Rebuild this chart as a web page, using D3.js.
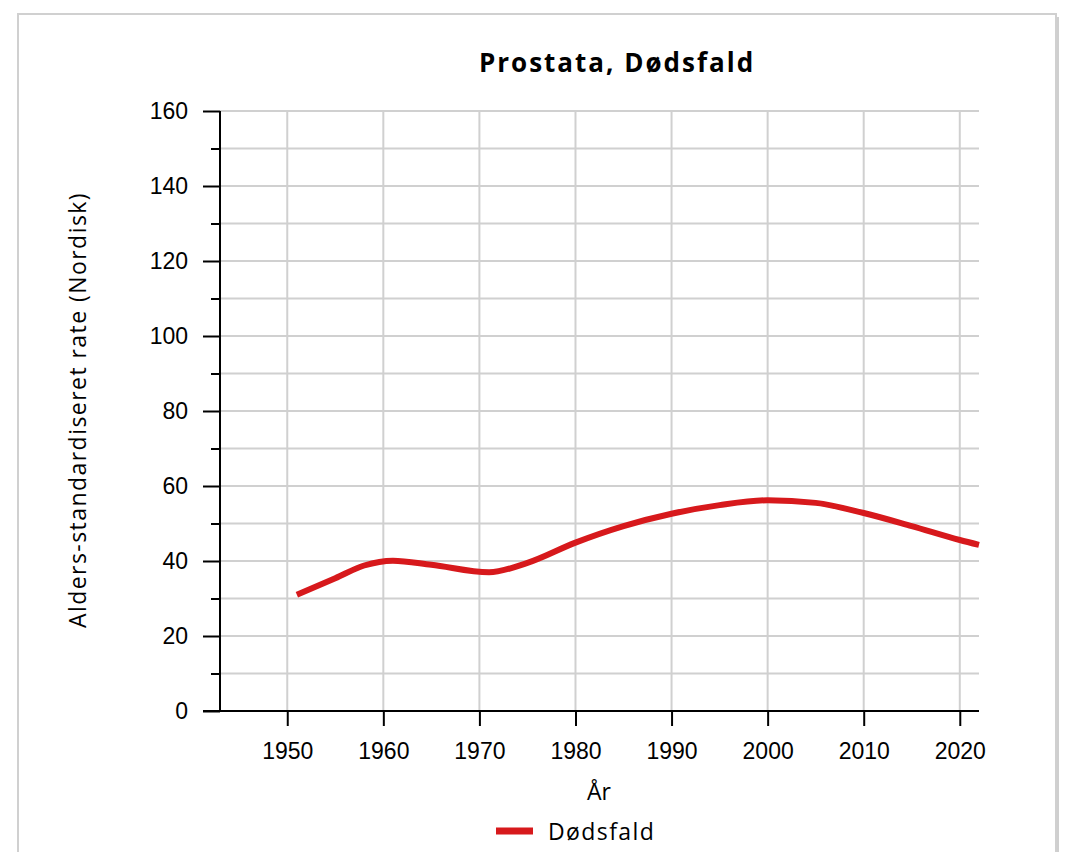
<!DOCTYPE html>
<html><head><meta charset="utf-8">
<script src="https://cdn.jsdelivr.net/npm/d3@7/dist/d3.min.js"></script>
<style>body{margin:0;background:#fff}</style>
</head><body>
<svg id="c" width="1072" height="852"></svg>
<script>
const years = [1951, 1955, 1958, 1961, 1965, 1971, 1975, 1980, 1985, 1990, 1995, 2000, 2005, 2010, 2015, 2020, 2022];
const rates = [31.0, 35.4, 38.8, 40.1, 39.0, 37.0, 39.5, 44.9, 49.3, 52.6, 54.9, 56.2, 55.5, 52.8, 49.3, 45.6, 44.3];
const xTicks = [1950, 1960, 1970, 1980, 1990, 2000, 2010, 2020];
const yTicks = [0, 20, 40, 60, 80, 100, 120, 140, 160];
const yMinor = [10, 30, 50, 70, 90, 110, 130, 150];
const title = "Prostata, Dødsfald";
const xLabel = "År";
const yLabel = "Alders-standardiseret rate (Nordisk)";
const seriesName = "Dødsfald";

const svg = d3.select("#c");
const L = 220, R = 979, T = 111, B = 711;
const x = d3.scaleLinear().domain([1943, 2022]).range([L, R]);
const y = d3.scaleLinear().domain([0, 160]).range([B, T]);

// frame with shadow
svg.append("rect").attr("x", 21).attr("y", 17).attr("width", 1038).attr("height", 900).attr("fill", "#cfcfcf");
svg.append("rect").attr("x", 18).attr("y", 14).attr("width", 1038).attr("height", 900).attr("fill", "#fff")
  .attr("stroke", "#d0d0d0").attr("stroke-width", 2);

const grid = svg.append("g");
yTicks.concat(yMinor).forEach(v => {
  grid.append("line").attr("x1", L).attr("x2", R).attr("y1", y(v)).attr("y2", y(v))
    .attr("stroke", "#d0d0d0").attr("stroke-width", 2);
});
xTicks.forEach(v => {
  grid.append("line").attr("x1", x(v)).attr("x2", x(v)).attr("y1", T).attr("y2", B)
    .attr("stroke", "#d0d0d0").attr("stroke-width", 2);
});

// y axis
const yAx = svg.append("g").attr("transform", `translate(${L},0)`)
  .call(d3.axisLeft(y).tickValues(yTicks).tickSize(17).tickPadding(15).tickFormat(d3.format("d")));
const yAxMinor = svg.append("g").attr("transform", `translate(${L},0)`)
  .call(d3.axisLeft(y).tickValues(yMinor).tickSize(9).tickFormat(""));
[yAx, yAxMinor].forEach(g => {
  g.select(".domain").remove();
  g.selectAll("line").attr("stroke", "#000").attr("stroke-width", 2);
});
yAx.selectAll("text").attr("font-family", "Liberation Sans, Arial, sans-serif").attr("font-size", 23).attr("fill", "#000");
svg.append("line").attr("x1", L).attr("x2", L).attr("y1", T).attr("y2", B + 1).attr("stroke", "#000").attr("stroke-width", 2);

// x axis
const xAx = svg.append("g").attr("transform", `translate(0,${B})`)
  .call(d3.axisBottom(x).tickValues(xTicks).tickSize(15).tickPadding(17).tickFormat(d3.format("d")));
xAx.select(".domain").remove();
xAx.selectAll("line").attr("stroke", "#000").attr("stroke-width", 2);
xAx.selectAll("text").attr("font-family", "Liberation Sans, Arial, sans-serif").attr("font-size", 23).attr("fill", "#000");
svg.append("line").attr("x1", L - 17).attr("x2", R).attr("y1", B).attr("y2", B).attr("stroke", "#000").attr("stroke-width", 2);

// line
const line = d3.line().x((d, i) => x(years[i])).y(d => y(d)).curve(d3.curveMonotoneX);
svg.append("path").datum(rates).attr("d", line).attr("fill", "none")
  .attr("stroke", "#d7191c").attr("stroke-width", 6);

// texts
svg.append("text").attr("x", 617).attr("y", 72).attr("text-anchor", "middle")
  .attr("font-family", "Open Sans, sans-serif").attr("font-weight", "bold").attr("font-size", 26)
  .attr("letter-spacing", 2).text(title);
svg.append("text").attr("x", 599).attr("y", 800).attr("text-anchor", "middle")
  .attr("font-family", "Open Sans, sans-serif").attr("font-size", 23).text(xLabel);
svg.append("text").attr("transform", "translate(86,410) rotate(-90)").attr("text-anchor", "middle")
  .attr("font-family", "Open Sans, sans-serif").attr("font-size", 23).attr("letter-spacing", 1.45).text(yLabel);
svg.append("line").attr("x1", 496).attr("x2", 533).attr("y1", 831).attr("y2", 831)
  .attr("stroke", "#d7191c").attr("stroke-width", 7);
svg.append("text").attr("x", 548).attr("y", 840)
  .attr("font-family", "Open Sans, sans-serif").attr("font-size", 23).attr("letter-spacing", 1.4).text(seriesName);
</script>
</body></html>
